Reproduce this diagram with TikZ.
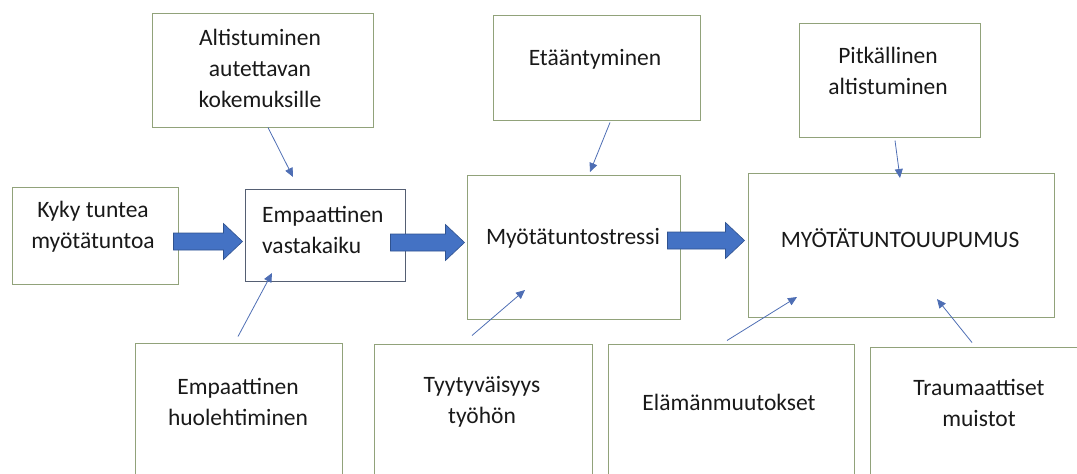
\documentclass[tikz,border=0pt]{standalone}
\usepackage{fontspec}
\setmainfont{Carlito}
\usetikzlibrary{calc,arrows.meta}
\definecolor{boxgreen}{RGB}{145,162,122}
\definecolor{boxslate}{RGB}{85,95,115}
\definecolor{fatblue}{RGB}{68,114,196}
\definecolor{fatblueedge}{RGB}{47,82,143}
\definecolor{linkblue}{RGB}{78,110,180}
\definecolor{inktext}{RGB}{25,25,25}
\tikzset{
  gbox/.style ={rectangle, draw=boxgreen, line width=1pt, inner sep=0pt},
  sbox/.style ={gbox, draw=boxslate},
  btext/.style={inner sep=0pt, align=center, text=inktext,
                font=\fontsize{23.5}{31}\selectfont},
  link/.style ={-{Triangle[length=9pt,width=8pt]}, line width=0.8pt, linkblue},
  fat/.style  ={fill=fatblue, draw=fatblueedge, line width=0.6pt, line join=miter},
}
% thick block arrow: x of the tail from #1, tip at #2
\newcommand\fatarrow[2]{%
  \path[fat] let \p1=(#1), \p2=(#2) in
    (\x1,\y2+8.5pt) -- (\x2-19pt,\y2+8.5pt) -- (\x2-19pt,\y2+18pt) -- (\x2,\y2)
    -- (\x2-19pt,\y2-18pt) -- (\x2-19pt,\y2-8.5pt) -- (\x1,\y2-8.5pt) -- cycle;}

\begin{document}
\begin{tikzpicture}[x=1pt, y=-1pt]
  \useasboundingbox (0,0) rectangle (1077,474);
  \clip (0,0) rectangle (1077,474);

  % --- top row -------------------------------------------------------------
  \node[gbox, minimum width=221pt, minimum height=114pt] (alti) at (262.5,70) {};
  \node[gbox, minimum width=207pt, minimum height=105pt] (etaa) at (596.5,67.5) {};
  \node[gbox, minimum width=181pt, minimum height=114pt] (pitk) at (889.5,80) {};
  \node[btext] at (260,68) {Altistuminen\\autettavan\\kokemuksille};
  \node[btext] at (595,59) {Etääntyminen};
  \node[btext] at (888,71) {Pitkällinen\\altistuminen};

  % --- middle row ----------------------------------------------------------
  \node[gbox, minimum width=166pt, minimum height=97pt]  (kyky)   at (95,235.5) {};
  \node[sbox, minimum width=160pt, minimum height=92pt]  (vasta)  at (325,235) {};
  \node[gbox, minimum width=213pt, minimum height=144pt] (stress) at (573.5,247) {};
  \node[gbox, minimum width=306pt, minimum height=144pt] (uup)    at (901,245) {};
  \node[btext] at (93,227) {Kyky tuntea\\myötätuntoa};
  \node[btext, align=left, anchor=west] at (262,230) {Empaattinen\\vastakaiku};
  \node[btext] at (573,238) {Myötätuntostressi};
  \node[btext] at (900,238) {MYÖTÄTUNTOUUPUMUS};

  % --- bottom row ----------------------------------------------------------
  \node[gbox, minimum width=207pt, minimum height=140pt] (huol) at (238.5,413) {};
  \node[gbox, minimum width=218pt, minimum height=140pt] (tyyt) at (483,414) {};
  \node[gbox, minimum width=246pt, minimum height=140pt] (elam) at (731,414) {};
  \node[gbox, minimum width=220pt, minimum height=140pt] (trau) at (980,417) {};
  \node[btext] at (238,401.5) {Empaattinen\\huolehtiminen};
  \node[btext] at (482,401.5) {Tyytyväisyys\\työhön};
  \node[btext] at (729,402) {Elämänmuutokset};
  \node[btext] at (979,403) {Traumaattiset\\muistot};

  % --- block arrows --------------------------------------------------------
  \fatarrow{[xshift=-5pt]kyky.east}{[shift={(-2pt,-6.5pt)}]vasta.west}
  \fatarrow{[xshift=-15pt]vasta.east}{[shift={(-2pt,4.5pt)}]stress.west}
  \fatarrow{[xshift=-13pt]stress.east}{[shift={(-3pt,4.5pt)}]uup.west}

  % --- thin arrows ---------------------------------------------------------
  \coordinate (t1) at (293,177);
  \coordinate (t2) at (590,172);
  \coordinate (t3) at (900,178);
  \coordinate (t4) at (272,273);
  \coordinate (t5) at (525,290);
  \coordinate (t6) at (797,297);
  \coordinate (t7) at (937,299);
  \draw[link] ([xshift=5.5pt]alti.south) -- (t1);
  \draw[link] ([shift={(13.5pt,-2pt)}]etaa.south) -- (t2);
  \draw[link] ([shift={(5.5pt,-3pt)}]pitk.south) -- (t3);
  \draw[link] ([shift={(-0.5pt,6pt)}]huol.north) -- (t4);
  \draw[link] ([shift={(-11pt,8pt)}]tyyt.north) -- (t5);
  \draw[link] ([shift={(-4pt,3pt)}]elam.north) -- (t6);
  \draw[link] ([shift={(-8pt,4pt)}]trau.north) -- (t7);
\end{tikzpicture}
\end{document}
